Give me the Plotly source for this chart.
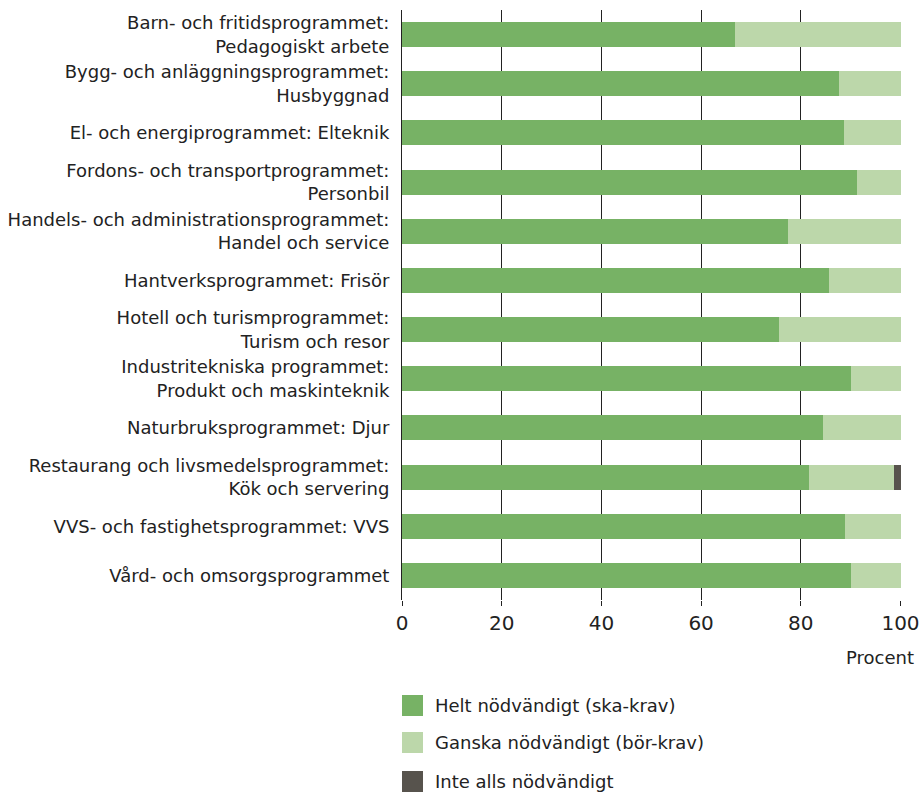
import plotly.graph_objects as go

categories = [
    "Barn- och fritidsprogrammet:<br>Pedagogiskt arbete",
    "Bygg- och anläggningsprogrammet:<br>Husbyggnad",
    "El- och energiprogrammet: Elteknik",
    "Fordons- och transportprogrammet:<br>Personbil",
    "Handels- och administrationsprogrammet:<br>Handel och service",
    "Hantverksprogrammet: Frisör",
    "Hotell och turismprogrammet:<br>Turism och resor",
    "Industritekniska programmet:<br>Produkt och maskinteknik",
    "Naturbruksprogrammet: Djur",
    "Restaurang och livsmedelsprogrammet:<br>Kök och servering",
    "VVS- och fastighetsprogrammet: VVS",
    "Vård- och omsorgsprogrammet",
]
helt = [66.7, 87.7, 88.7, 91.3, 77.5, 85.7, 75.7, 90.1, 84.5, 81.7, 88.9, 90.1]
ganska = [33.3, 12.3, 11.3, 8.7, 22.5, 14.3, 24.3, 9.9, 15.5, 17.0, 11.1, 9.9]
inte = [0, 0, 0, 0, 0, 0, 0, 0, 0, 1.3, 0, 0]

series_names = ["Helt nödvändigt (ska-krav)", "Ganska nödvändigt (bör-krav)", "Inte alls nödvändigt"]
series_values = [helt, ganska, inte]
colors = ["#77B265", "#BCD7AA", "#57534D"]
x_ticks = [0, 20, 40, 60, 80, 100]

FONT = "DejaVu Sans"
TXT = "#222222"

W, H = 919, 792
ML, MR, MT, MB = 402, 18, 10, 192
PW = W - ML - MR
PH = H - MT - MB

fig = go.Figure()
for name, vals, col in zip(series_names, series_values, colors):
    fig.add_trace(go.Bar(
        y=categories, x=vals, name=name, orientation="h",
        marker=dict(color=col, line=dict(width=0)),
        showlegend=False, hoverinfo="x+y",
    ))


def px_x(px):
    return (px - ML) / PW


def px_y(py):
    return (MT + PH - py) / PH


shapes = []
annotations = []
legend_centers = [705.5, 742.5, 781.5]
for name, col, cy in zip(series_names, colors, legend_centers):
    shapes.append(dict(
        type="rect", xref="paper", yref="paper",
        x0=px_x(402), x1=px_x(423), y0=px_y(cy + 10.5), y1=px_y(cy - 10.5),
        fillcolor=col, line=dict(width=0), layer="above",
    ))
    annotations.append(dict(
        xref="paper", yref="paper", x=px_x(433), y=px_y(cy),
        xanchor="left", yanchor="middle", text=name, showarrow=False,
        font=dict(family=FONT, size=18, color=TXT),
    ))

annotations.append(dict(
    xref="paper", yref="paper", x=px_x(916), y=px_y(657),
    xanchor="right", yanchor="middle", text="Procent", showarrow=False,
    font=dict(family=FONT, size=18, color=TXT),
))

fig.update_layout(
    width=W, height=H,
    margin=dict(l=ML, r=MR, t=MT, b=MB, pad=0, autoexpand=False),
    barmode="stack",
    bargap=0.49,
    plot_bgcolor="white",
    paper_bgcolor="white",
    font=dict(family=FONT, size=18, color=TXT),
    shapes=shapes,
    annotations=annotations,
    xaxis=dict(
        range=[0, 100.1], tickvals=x_ticks, ticktext=[str(v) for v in x_ticks],
        showgrid=True, gridcolor="#222222", gridwidth=1,
        zeroline=False, showline=False,
        ticks="outside", ticklen=5, tickcolor="#222222",
        tickfont=dict(family=FONT, size=20, color=TXT),
        ticklabeloverflow="allow",
        automargin=False,
        fixedrange=True,
    ),
    yaxis=dict(
        autorange="reversed", showgrid=False, zeroline=False,
        showline=True, linecolor="#222222", linewidth=1,
        ticks="", ticklabelstandoff=8,
        tickfont=dict(family=FONT, size=18, color=TXT),
        automargin=False,
        fixedrange=True,
    ),
)

fig.write_html(
    "out.html",
    config={"displayModeBar": False},
    post_script="document.body.style.margin='0';document.body.style.overflow='hidden';",
)
